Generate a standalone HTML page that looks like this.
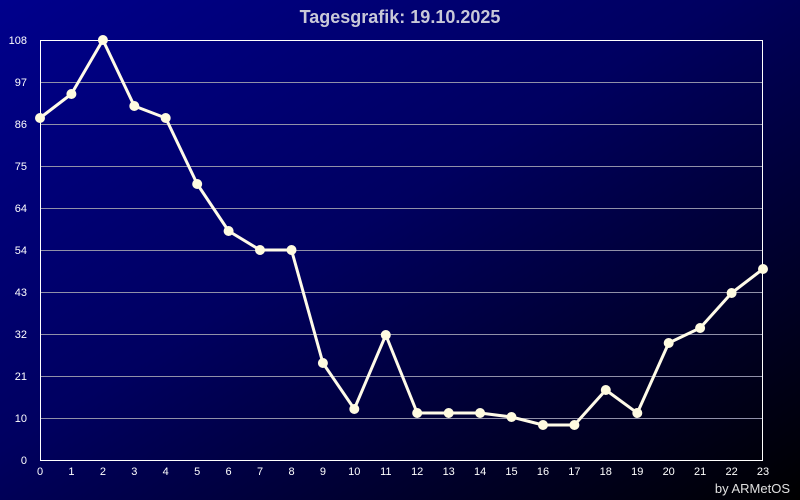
<!DOCTYPE html>
<html><head><style>
html,body{margin:0;padding:0;width:800px;height:500px;overflow:hidden;background:#000}
svg{display:block}
</style></head><body>
<svg width="800" height="500" xmlns="http://www.w3.org/2000/svg" font-family="Liberation Sans, sans-serif">
<defs><linearGradient id="g" x1="0" y1="0" x2="1" y2="1"><stop offset="0" stop-color="#00008c"/><stop offset="0.45" stop-color="#000060"/><stop offset="1" stop-color="#000000"/></linearGradient></defs>
<rect width="800" height="500" fill="url(#g)"/>
<text x="400" y="23" text-anchor="middle" font-size="18" font-weight="bold" fill="#c8c8d8">Tagesgrafik: 19.10.2025</text>
<g stroke="#9090a8" stroke-width="1">
<line x1="40" y1="82.5" x2="763" y2="82.5"/><line x1="40" y1="124.5" x2="763" y2="124.5"/><line x1="40" y1="166.5" x2="763" y2="166.5"/><line x1="40" y1="208.5" x2="763" y2="208.5"/><line x1="40" y1="250.5" x2="763" y2="250.5"/><line x1="40" y1="292.5" x2="763" y2="292.5"/><line x1="40" y1="334.5" x2="763" y2="334.5"/><line x1="40" y1="376.5" x2="763" y2="376.5"/><line x1="40" y1="418.5" x2="763" y2="418.5"/>
</g>
<rect x="40.5" y="40.5" width="722" height="420" fill="none" stroke="#fff" stroke-width="1"/>
<g fill="#fff" font-size="11" text-anchor="end">
<text x="27" y="44">108</text><text x="27" y="86">97</text><text x="27" y="128">86</text><text x="27" y="170">75</text><text x="27" y="212">64</text><text x="27" y="254">54</text><text x="27" y="296">43</text><text x="27" y="338">32</text><text x="27" y="380">21</text><text x="27" y="422">10</text><text x="27" y="464">0</text>
</g>
<g fill="#fff" font-size="11" text-anchor="middle">
<text x="40" y="475">0</text><text x="71.4" y="475">1</text><text x="102.9" y="475">2</text><text x="134.3" y="475">3</text><text x="165.7" y="475">4</text><text x="197.2" y="475">5</text><text x="228.6" y="475">6</text><text x="260" y="475">7</text><text x="291.5" y="475">8</text><text x="322.9" y="475">9</text><text x="354.3" y="475">10</text><text x="385.8" y="475">11</text><text x="417.2" y="475">12</text><text x="448.7" y="475">13</text><text x="480.1" y="475">14</text><text x="511.5" y="475">15</text><text x="543" y="475">16</text><text x="574.4" y="475">17</text><text x="605.8" y="475">18</text><text x="637.3" y="475">19</text><text x="668.7" y="475">20</text><text x="700.1" y="475">21</text><text x="731.6" y="475">22</text><text x="763" y="475">23</text>
</g>
<polyline fill="none" stroke="#fffbe8" stroke-width="3" stroke-linejoin="round" points="40,118 71.4,94 102.9,40 134.3,106 165.7,118 197.2,184 228.6,231 260,250 291.5,250 322.9,363 354.3,409 385.8,335 417.2,413 448.7,413 480.1,413 511.5,417 543,425 574.4,425 605.8,390 637.3,413 668.7,343 700.1,328 731.6,293 763,269"/>
<g fill="#fffbe0">
<circle cx="40" cy="118" r="5"/><circle cx="71.4" cy="94" r="5"/><circle cx="102.9" cy="40" r="5"/><circle cx="134.3" cy="106" r="5"/><circle cx="165.7" cy="118" r="5"/><circle cx="197.2" cy="184" r="5"/><circle cx="228.6" cy="231" r="5"/><circle cx="260" cy="250" r="5"/><circle cx="291.5" cy="250" r="5"/><circle cx="322.9" cy="363" r="5"/><circle cx="354.3" cy="409" r="5"/><circle cx="385.8" cy="335" r="5"/><circle cx="417.2" cy="413" r="5"/><circle cx="448.7" cy="413" r="5"/><circle cx="480.1" cy="413" r="5"/><circle cx="511.5" cy="417" r="5"/><circle cx="543" cy="425" r="5"/><circle cx="574.4" cy="425" r="5"/><circle cx="605.8" cy="390" r="5"/><circle cx="637.3" cy="413" r="5"/><circle cx="668.7" cy="343" r="5"/><circle cx="700.1" cy="328" r="5"/><circle cx="731.6" cy="293" r="5"/><circle cx="763" cy="269" r="5"/>
</g>
<text x="790" y="493" text-anchor="end" font-size="13" fill="#e0e0e0">by ARMetOS</text>
</svg>
</body></html>
